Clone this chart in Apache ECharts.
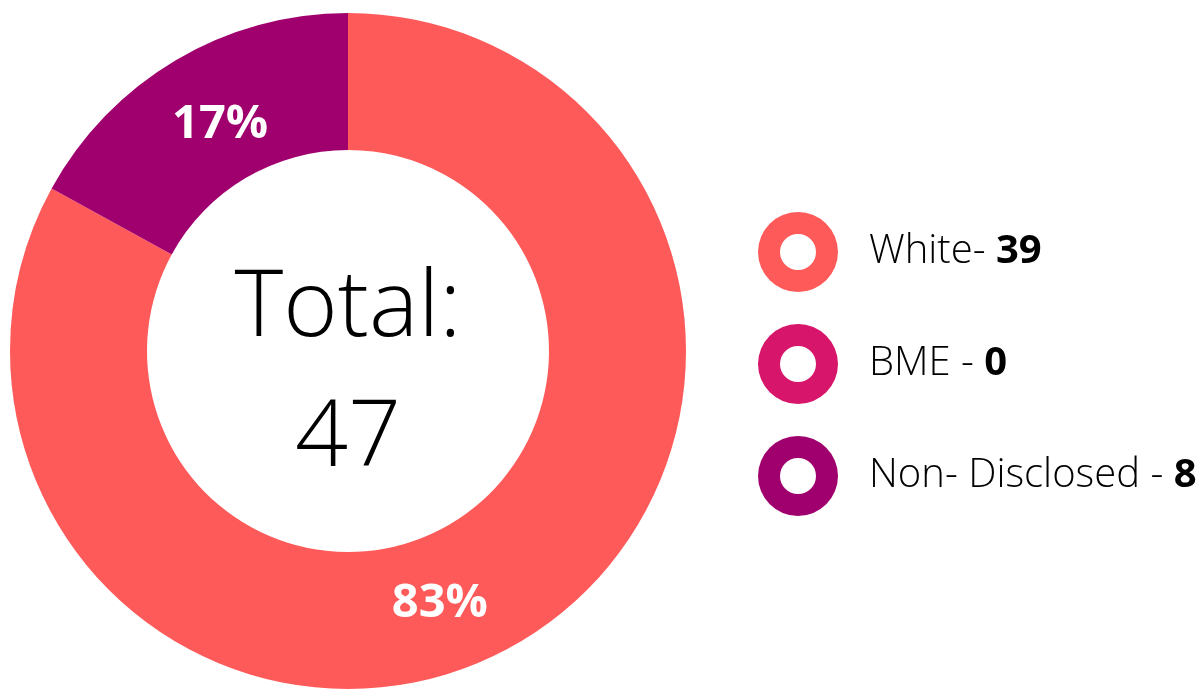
<!DOCTYPE html>
<html>
<head>
<meta charset="utf-8">
<script src="https://cdn.jsdelivr.net/npm/echarts@6/dist/echarts.min.js"></script>
<style>
  html, body { margin: 0; padding: 0; background: #fff; }
  #main { width: 1204px; height: 692px; }
</style>
</head>
<body>
<div id="main"></div>
<script>
var groups = ['White', 'BME', 'Non- Disclosed'];
var counts = [39, 0, 8];
var legendNames = ['White- ', 'BME - ', 'Non- Disclosed - '];
var colors = ['#FF5A5A', '#D7166B', '#A0006E'];
// label nudges so the percentages sit where the original puts them
var labelOffsets = [[-47, 18], [0, 0], [11, 8]];

var total = 0;
for (var i = 0; i < counts.length; i++) total += counts[i];

var ring = 'path://M40,0 A40,40 0 1,1 40,80 A40,40 0 1,1 40,0 Z M40,22 A18,18 0 1,0 40,58 A18,18 0 1,0 40,22 Z';

var pieData = groups.map(function (g, i) {
    return {
        name: g,
        value: counts[i],
        itemStyle: { color: colors[i] },
        label: { offset: labelOffsets[i] }
    };
});

var myChart = echarts.init(document.getElementById('main'));
var option = {
    animation: false,
    legend: {
        orient: 'vertical',
        left: 753,
        top: 207,
        itemWidth: 80,
        itemHeight: 80,
        itemGap: 32,
        icon: ring,
        selectedMode: false,
        data: groups,
        formatter: function (name) {
            var k = groups.indexOf(name);
            return '{a|' + legendNames[k] + '}{b|' + counts[k] + '}';
        },
        textStyle: {
            padding: [0, 0, 0, 26],
            rich: {
                a: { fontFamily: 'Open Sans', fontWeight: 300, fontSize: 40, color: '#000' },
                b: { fontFamily: 'Open Sans', fontWeight: 'bold', fontSize: 40, color: '#000' }
            }
        }
    },
    graphic: [{
        type: 'text',
        x: 348,
        y: 374,
        style: {
            text: 'Total:\n' + total,
            textAlign: 'center',
            textVerticalAlign: 'middle',
            fontFamily: 'Open Sans',
            fontWeight: 300,
            fontSize: 93,
            lineHeight: 130,
            fill: '#000'
        }
    }],
    series: [{
        type: 'pie',
        center: [348, 351],
        radius: [201, 338],
        startAngle: 90,
        clockwise: true,
        avoidLabelOverlap: false,
        emphasis: { disabled: true },
        label: {
            show: true,
            position: 'inside',
            color: '#fff',
            fontFamily: 'Open Sans',
            fontWeight: 'bold',
            fontSize: 47,
            formatter: function (p) {
                return p.value > 0 ? Math.round(p.percent) + '%' : '';
            }
        },
        labelLine: { show: false },
        data: pieData
    }]
};
myChart.setOption(option);
</script>
</body>
</html>
